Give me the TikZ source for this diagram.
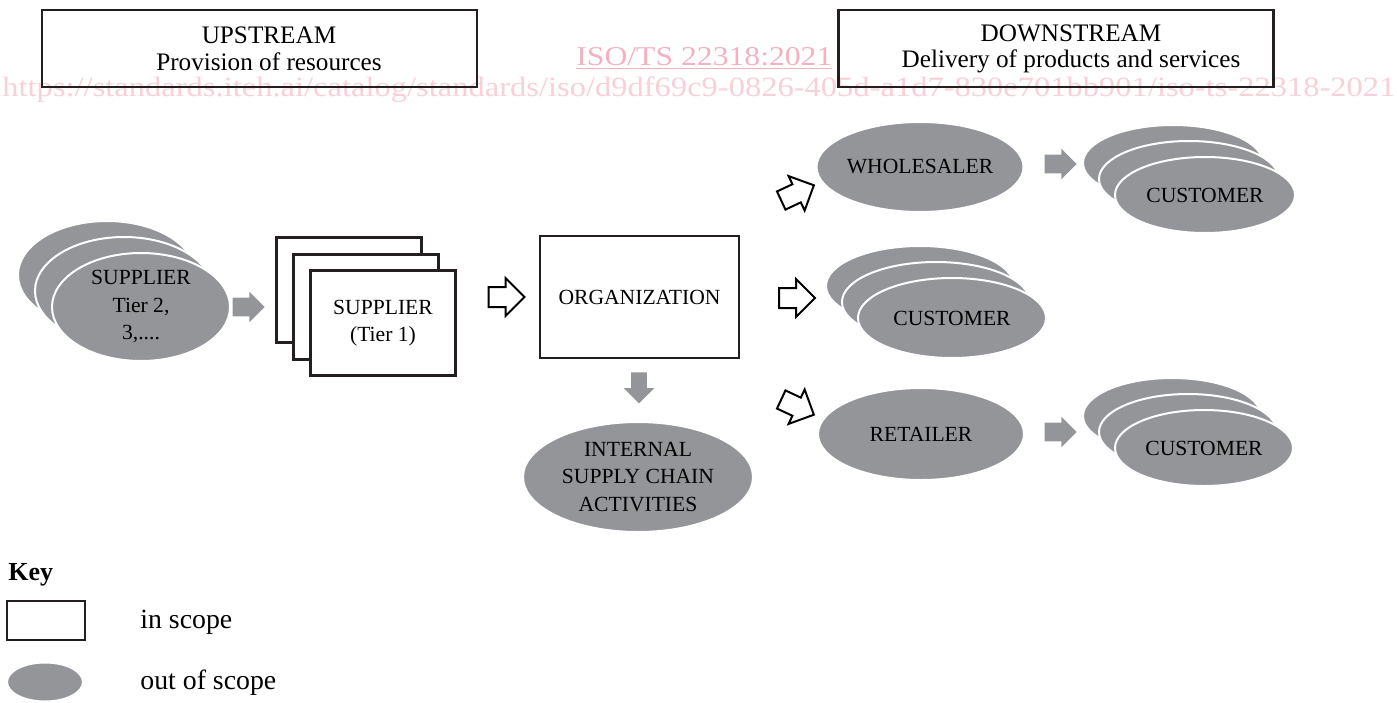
\documentclass[tikz,border=0pt]{standalone}
\usepackage{fontspec}
\setmainfont{Liberation Serif}
\usepackage{graphicx}
\usepackage{xcolor}
\usepackage{tikz}
\usetikzlibrary{shapes.geometric,shapes.arrows}

\definecolor{oosgray}{RGB}{147,149,152}
\definecolor{boxline}{RGB}{35,31,32}
\definecolor{wmpink}{RGB}{242,178,192}
\definecolor{wmlight}{RGB}{247,208,216}

\begin{document}
\begin{tikzpicture}[x=0.5pt, y=-0.5pt,
  hdr/.style={draw=boxline, line width=1.4pt, minimum width=217.5pt, minimum height=38.5pt, inner sep=0pt},
  hdrtxt/.style={align=center, inner sep=0pt, font=\fontsize{12.6}{13.3}\selectfont},
  insc/.style={draw=boxline, line width=1.3pt, fill=white, inner sep=0pt, align=center, font=\fontsize{10.8}{13.75}\selectfont},
  oos/.style={ellipse, fill=oosgray, draw=white, line width=1pt, inner sep=0pt, align=center, font=\fontsize{10.8}{13.75}\selectfont},
  hollow/.style={single arrow, draw=black, fill=white, line width=1pt, inner xsep=0pt, inner ysep=4.5pt, minimum height=18pt, single arrow head extend=4.5pt},
  flow/.style={single arrow, fill=oosgray, inner xsep=0pt, inner ysep=4.5pt, minimum height=16pt, single arrow head extend=3pt},
  keytxt/.style={anchor=west, inner sep=0pt, font=\fontsize{13.9}{16}\selectfont}]
\useasboundingbox (0,0) rectangle (1397,702);

% watermark
\node[anchor=base west, inner sep=0pt, text=wmlight, font=\fontsize{14}{14}\selectfont] (urlmark) at (2,96) {\resizebox{696.5pt}{\height}{https://standards.iteh.ai/catalog/standards/iso/d9df69c9-0826-405d-a1d7-830e701bb901/iso-ts-22318-2021}};
\node[anchor=base west, inner sep=0pt, text=wmpink, font=\fontsize{13.6}{14}\selectfont] (isomark) at (576,65) {\resizebox{128pt}{\height}{\underline{ISO/TS 22318:2021}}};

% upstream / downstream
\node[hdr] (up) at (259.5,48.5) {};
\node[hdrtxt] (uptxt) at (269,49) {UPSTREAM\\Provision of resources};
\node[hdr] (down) at (1056,48.5) {};
\node[hdrtxt] (downtxt) at (1071,49) {DOWNSTREAM\\Delivery of products and services};

% suppliers
\node[oos, minimum width=89pt, minimum height=54pt] (sup3) at (107,275) {};
\node[oos, minimum width=89pt, minimum height=54pt] (sup2) at (124,291) {};
\node[oos, minimum width=89pt, minimum height=54pt] (sup1) at (141,307) {SUPPLIER\\Tier 2,\\3,....};
\node[flow] (g1) at (244,307) {};
\node[insc, minimum width=72.5pt, minimum height=52.5pt] (tierC) at (349,290) {};
\node[insc, minimum width=72.5pt, minimum height=52.5pt] (tierB) at (366,307) {};
\node[insc, minimum width=72.5pt, minimum height=52.5pt] (tierA) at (383,323) {SUPPLIER\\(Tier 1)};
\node[hollow] (h1) at (501.5,297) {};

% organization
\node[insc, minimum width=99.5pt, minimum height=61pt] (org) at (639.5,297) {ORGANIZATION};
\node[flow, rotate=-90, minimum height=15.5pt, inner ysep=3.75pt, single arrow head extend=3.75pt] (g2) at (639,384) {};
\node[oos, minimum width=115pt, minimum height=55pt] (isc) at (638,477) {INTERNAL\\SUPPLY CHAIN\\ACTIVITIES};
\node[hollow, rotate=25] (h2) at (793,195) {};
\node[hollow] (h3) at (792,298) {};
\node[hollow, rotate=-25] (h4) at (793,405) {};

% downstream chain
\node[oos, minimum width=103pt, minimum height=45pt] (whole) at (920,167) {WHOLESALER};
\node[flow] (g3) at (1056,164) {};
\node[oos, minimum width=90pt, minimum height=38pt] (cusA3) at (1173,163) {};
\node[oos, minimum width=90pt, minimum height=38pt] (cusA2) at (1189,179) {};
\node[oos, minimum width=90pt, minimum height=38pt] (cusA1) at (1205,195) {CUSTOMER};

\node[oos, minimum width=94pt, minimum height=40pt] (cusB3) at (920,286) {};
\node[oos, minimum width=94pt, minimum height=40pt] (cusB2) at (936,302) {};
\node[oos, minimum width=94pt, minimum height=40pt] (cusB1) at (952,318) {CUSTOMER};

\node[oos, minimum width=103pt, minimum height=46pt] (retail) at (921,434) {RETAILER};
\node[flow] (g4) at (1056,432) {};
\node[oos, minimum width=89pt, minimum height=38pt] (cusC3) at (1172,416) {};
\node[oos, minimum width=89pt, minimum height=38pt] (cusC2) at (1188,432) {};
\node[oos, minimum width=89pt, minimum height=38pt] (cusC1) at (1204,448) {CUSTOMER};

% key
\node[anchor=base west, inner sep=0pt, font=\bfseries\fontsize{13}{15}\selectfont] (keyhd) at (8,580) {Key};
\node[insc, minimum width=39pt, minimum height=19.5pt] (keyin) at (46,620.5) {};
\node[oos, minimum width=38pt, minimum height=19.5pt] (keyout) at (45,682) {};
\node[keytxt] (keyintxt) at (140,622) {in scope};
\node[keytxt] (keyouttxt) at (140,683) {out of scope};
\end{tikzpicture}
\end{document}
